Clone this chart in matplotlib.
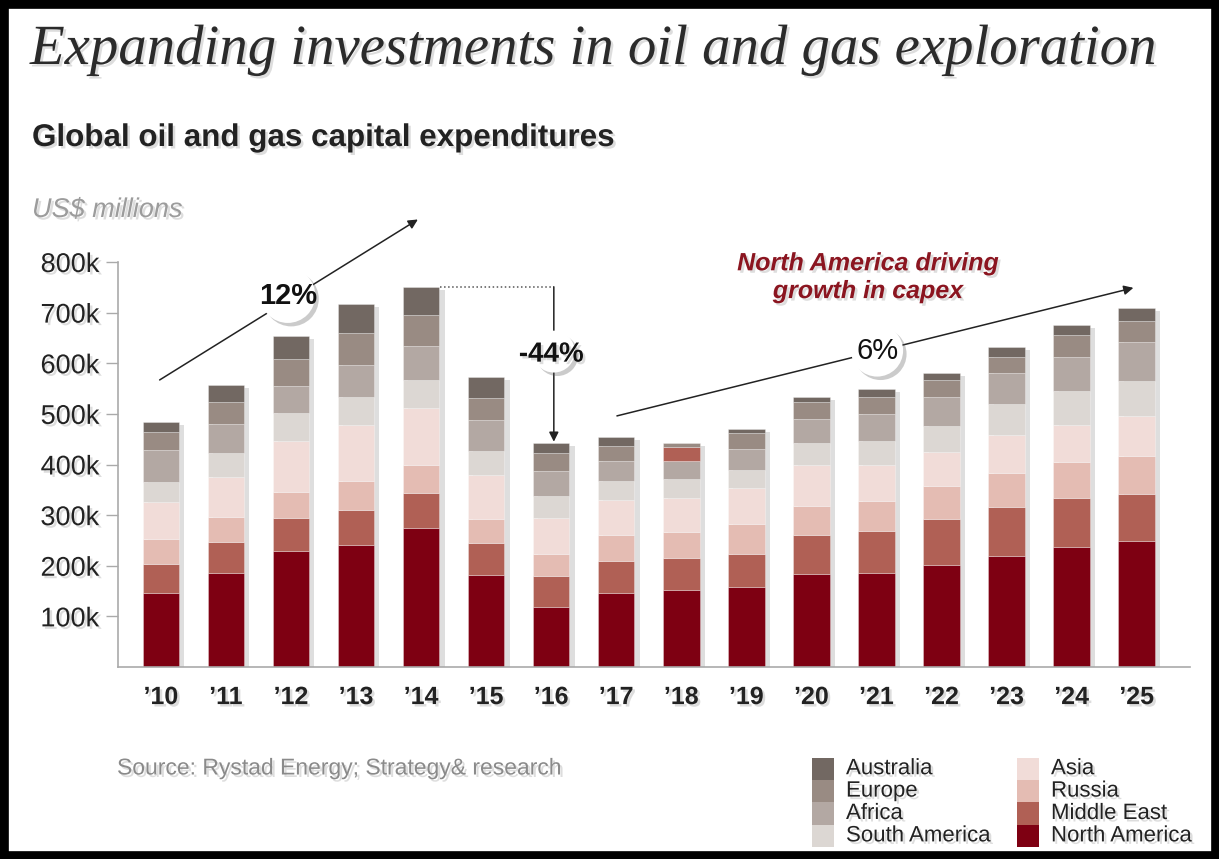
import numpy as np
import matplotlib.pyplot as plt
import matplotlib.patheffects as pe
from matplotlib.patches import Rectangle

plt.rcParams['font.family'] = ['Liberation Sans', 'DejaVu Sans']

# capex by region, thousands of US$ millions ("k")
years = ['\u201910', '\u201911', '\u201912', '\u201913', '\u201914', '\u201915', '\u201916', '\u201917',
         '\u201918', '\u201919', '\u201920', '\u201921', '\u201922', '\u201923', '\u201924', '\u201925']
regions = ['North America', 'Middle East', 'Russia', 'Asia',
           'South America', 'Africa', 'Europe', 'Australia']
north_america = [147, 186, 229, 241, 274, 181, 118, 147, 152, 158, 183, 186, 201, 219, 237, 249]
middle_east = [56, 61, 65, 69, 69, 63, 61, 62, 64, 66, 77, 83, 91, 97, 96, 93]
russia = [49, 50, 51, 58, 57, 48, 45, 51, 51, 58, 58, 59, 65, 68, 72, 75]
asia = [74, 79, 102, 110, 112, 87, 71, 70, 67, 71, 81, 72, 68, 74, 74, 79]
south_america = [40, 46, 54, 56, 55, 48, 43, 37, 37, 36, 43, 47, 52, 61, 66, 68]
africa = [62, 58, 54, 63, 67, 60, 50, 40, 36, 41, 47, 52, 57, 61, 68, 78]
europe = [37, 43, 53, 62, 62, 44, 34, 30, 28, 33, 34, 35, 32, 33, 42, 42]
australia = [19, 34, 46, 58, 55, 41, 21, 17, 8, 7, 11, 15, 15, 20, 21, 26]

legend_left = ['Australia', 'Europe', 'Africa', 'South America']
legend_right = ['Asia', 'Russia', 'Middle East', 'North America']

colors = {'North America': '#7e0012', 'Middle East': '#b06055', 'Russia': '#e4bcb3',
          'Asia': '#f1dcd8', 'South America': '#dcd7d3', 'Africa': '#b3a8a3',
          'Europe': '#998b83', 'Australia': '#726862'}

series = [north_america, middle_east, russia, asia, south_america, africa, europe, australia]
totals = np.sum(series, axis=0)

W, H = 1219, 859
fig = plt.figure(figsize=(W / 100, H / 100), dpi=100)
ax = fig.add_axes([118 / W, 1 - 667 / H, (1190 - 118) / W, (667 - 262) / H])

shadow = [pe.SimplePatchShadow(offset=(1.8, -1.8), shadow_rgbFace='#888888', alpha=0.28), pe.Normal()]

x = np.arange(len(years))
w = 0.56

# soft drop shadow behind each stack
ax.bar(x + 0.08, totals, w, bottom=-6, color='black', alpha=0.13, zorder=1, linewidth=0)

bottom = np.zeros(len(years))
i18 = years.index('\u201918')
for name, vals in zip(regions, series):
    cols = [colors[name]] * len(years)
    # the '18 bar in the original has its top segments coloured oddly
    if name == 'Europe':
        cols[i18] = colors['Middle East']
    elif name == 'Australia':
        cols[i18] = colors['Europe']
    ax.bar(x, vals, w, bottom=bottom, color=cols, edgecolor=(1, 1, 1, 0.35),
           linewidth=0.6, zorder=2)
    bottom += np.array(vals)

ax.set_ylim(0, 800)
ax.set_xlim(-0.66, 15.82)
ax.set_yticks(range(100, 900, 100))
ax.set_yticklabels([f'{v}k' for v in range(100, 900, 100)])
ax.set_xticks(x)
ax.set_xticklabels(years, fontweight='bold')
ax.tick_params(axis='y', length=8.5, width=1, color='#aaaaaa', labelsize=19.5, labelcolor='#222222', pad=5)
ax.tick_params(axis='x', length=0, labelsize=18, labelcolor='#222222', pad=13)
for lab in ax.get_xticklabels() + ax.get_yticklabels():
    lab.set_path_effects(shadow)
for s in ['top', 'right']:
    ax.spines[s].set_visible(False)
ax.spines['left'].set_color('#aaaaaa')
ax.spines['bottom'].set_color('#aaaaaa')
ax.spines['left'].set_linewidth(1.2)
ax.spines['bottom'].set_linewidth(1.2)

# trend arrows and change labels
arrow = dict(arrowstyle='-|>', color='#222222', lw=1.1, mutation_scale=14, shrinkA=0, shrinkB=0)
disc = [pe.SimplePatchShadow(offset=(2.5, -2.5), shadow_rgbFace='#555555', alpha=0.3), pe.Normal()]

ax.annotate('', xy=(3.95, 884), xytext=(-0.02, 567), arrowprops=arrow, annotation_clip=False)
ax.scatter([1.95], [734], s=1570, c='white', zorder=5, path_effects=disc, clip_on=False, linewidths=0)
ax.text(1.95, 733, '12%', ha='center', va='center', fontsize=21, fontweight='bold',
        color='#111111', zorder=6)

ax.plot([4.29, 6.04], [totals[4], totals[4]], ls=':', color='#555555', lw=1.1, zorder=3, clip_on=False)
ax.annotate('', xy=(6.04, totals[6] + 2), xytext=(6.04, totals[4]), arrowprops=arrow, annotation_clip=False)
ax.scatter([6.04], [623], s=910, c='white', zorder=5, path_effects=disc, linewidths=0)
ax.text(6.0, 617, '-44%', ha='center', va='center', fontsize=20, fontweight='bold',
        color='#111111', zorder=6, path_effects=shadow)

ax.annotate('', xy=(14.95, 749), xytext=(7.01, 496), arrowprops=arrow, annotation_clip=False)
ax.scatter([11.01], [625], s=1400, c='white', zorder=5, path_effects=disc, linewidths=0)
ax.text(11.01, 624, '6%', ha='center', va='center', fontsize=21, color='#111111', zorder=6)

ax.text(10.87, 770, 'North America driving\ngrowth in capex', ha='center', va='center',
        fontsize=18, fontweight='bold', style='italic', color='#8b1520', linespacing=1.2,
        path_effects=shadow, zorder=6)

# titles
fig.text(30 / W, 1 - 50 / H, 'Expanding investments in oil and gas exploration',
         family='Liberation Serif', style='italic', fontsize=40.9, color='#2b2b2b',
         va='center', ha='left', path_effects=shadow)
fig.text(32 / W, 1 - 138 / H, 'Global oil and gas capital expenditures',
         fontsize=22.6, fontweight='bold', color='#222222', va='center', ha='left',
         path_effects=shadow)
fig.text(32 / W, 1 - 210 / H, 'US$ millions', fontsize=19.5, style='italic',
         color='#9c9c9c', va='center', ha='left', path_effects=shadow)
fig.text(117 / W, 1 - 768 / H, 'Source: Rystad Energy; Strategy& research', fontsize=16.5,
         color='#8a8a8a', va='center', ha='left', path_effects=shadow)

# legend, two columns of stacked swatches
sw, sh = 22, 22.4
for col_x, names in [(812, legend_left), (1017, legend_right)]:
    for i, name in enumerate(names):
        y0 = 757.5 + i * sh
        fig.add_artist(Rectangle((col_x / W, 1 - (y0 + sh) / H), sw / W, sh / H,
                                 transform=fig.transFigure, color=colors[name], lw=0))
        fig.text((col_x + 34) / W, 1 - (y0 + sh / 2) / H, name, fontsize=16,
                 color='#222222', va='center', ha='left', path_effects=shadow)

# black frame
fig.add_artist(Rectangle((0, 0), 1, 1, transform=fig.transFigure, fill=False,
                         edgecolor='black', linewidth=12))

fig.savefig('out.png', dpi=100)
